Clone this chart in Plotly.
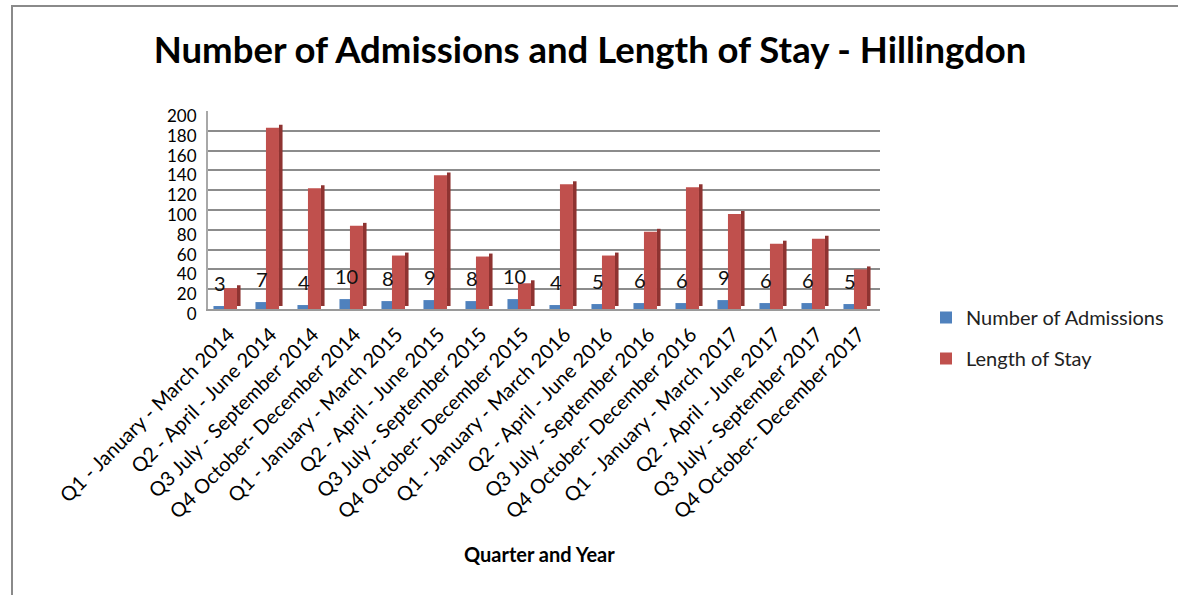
import plotly.graph_objects as go

# Quarterly admissions and length of stay, Hillingdon
quarters = [
    "Q1 - January - March 2014", "Q2 - April - June 2014",
    "Q3 July - September 2014", "Q4 October- December 2014",
    "Q1 - January - March 2015", "Q2 - April - June 2015",
    "Q3 July - September 2015", "Q4 October- December 2015",
    "Q1 - January - March 2016", "Q2 - April - June 2016",
    "Q3 July - September 2016", "Q4 October- December 2016",
    "Q1 - January - March 2017", "Q2 - April - June 2017",
    "Q3 July - September 2017", "Q4 October- December 2017",
]
admissions = [3, 7, 4, 10, 8, 9, 8, 10, 4, 5, 6, 6, 9, 6, 6, 5]
length_of_stay = [21, 183, 122, 84, 54, 135, 53, 26, 126, 54, 78, 123, 96, 66, 71, 40]
y_ticks = list(range(0, 201, 20))

BLUE = "#4F81BD"
BLUE_SIDE = "#3A6397"
RED = "#C0504D"
RED_SIDE = "#8E3331"
FONT = "Lato"

# page geometry in pixels
W, H = 1178, 595
PL, PR, PT, PB = 208, 880, 111, 309

fig = go.Figure()

# blue column with a darker side face
fig.add_trace(go.Bar(
    x=quarters, y=admissions, name="Number of Admissions",
    marker=dict(color=BLUE, line=dict(width=0)),
    offset=-0.37, width=0.26, legendgroup="a",
))
fig.add_trace(go.Bar(
    x=quarters, y=admissions, base=[1.5] * len(admissions),
    marker=dict(color=BLUE_SIDE, line=dict(width=0)),
    offset=-0.11, width=0.05, showlegend=False, hoverinfo="skip",
    legendgroup="a",
))
# red column with a darker side face
fig.add_trace(go.Bar(
    x=quarters, y=length_of_stay, name="Length of Stay",
    marker=dict(color=RED, line=dict(width=0)),
    offset=-0.12, width=0.31, legendgroup="b",
))
fig.add_trace(go.Bar(
    x=quarters, y=length_of_stay, base=[3] * len(length_of_stay),
    marker=dict(color=RED_SIDE, line=dict(width=0)),
    offset=0.19, width=0.085, showlegend=False, hoverinfo="skip",
    legendgroup="b",
))

# admission counts written above the blue columns
for q, a in zip(quarters, admissions):
    fig.add_annotation(
        x=q, y=a, text=str(a), showarrow=False,
        yanchor="bottom", xanchor="center", xshift=-9, yshift=9,
        font=dict(family=FONT, size=20, color="#111111"),
    )

pw, ph = PR - PL, PB - PT


def px_x(v):
    return (v - PL) / pw


def px_y(v):
    return (PB - v) / ph


# outer chart frame
fig.add_shape(
    type="rect", xref="paper", yref="paper",
    x0=px_x(12), x1=px_x(W + 20), y0=px_y(H + 20), y1=px_y(6),
    line=dict(color="#8a8a8a", width=2), fillcolor="rgba(0,0,0,0)",
    layer="below",
)

fig.add_annotation(
    xref="paper", yref="paper", x=px_x(539), y=px_y(554),
    xanchor="center", yanchor="middle",
    text="<b>Quarter and Year</b>", showarrow=False,
    font=dict(family=FONT, size=20, color="#000000"),
)

fig.update_layout(
    width=W, height=H,
    margin=dict(l=PL, r=W - PR, t=PT, b=H - PB, autoexpand=False),
    paper_bgcolor="white", plot_bgcolor="white",
    barmode="overlay",
    title=dict(
        text="<b>Number of Admissions and Length of Stay - Hillingdon</b>",
        x=590 / W, xanchor="center", xref="container",
        y=1 - 50 / H, yanchor="middle", yref="container",
        font=dict(family=FONT, size=36.5, color="#000000"),
    ),
    legend=dict(
        x=px_x(926), y=px_y(298), xanchor="left", yanchor="top",
        font=dict(family=FONT, size=20, color="#222222"),
        tracegroupgap=12, traceorder="grouped",
        bgcolor="rgba(0,0,0,0)",
    ),
    xaxis=dict(
        type="category", tickangle=-45,
        tickfont=dict(family=FONT, size=20, color="#000000"),
        showgrid=False, showline=True, linecolor="#9a9a9a", linewidth=2,
        ticks="", ticklen=0, ticklabelstandoff=4,
    ),
    yaxis=dict(
        range=[0, 200], tickvals=y_ticks,
        tickfont=dict(family=FONT, size=17, color="#000000"),
        showgrid=True, gridcolor="#8c8c8c", gridwidth=2,
        showline=True, linecolor="#a8a8a8", linewidth=2,
        zeroline=False, ticks="", ticklabelstandoff=6, ticklabelshift=5,
    ),
    showlegend=True,
)

fig.write_html("out.html")
